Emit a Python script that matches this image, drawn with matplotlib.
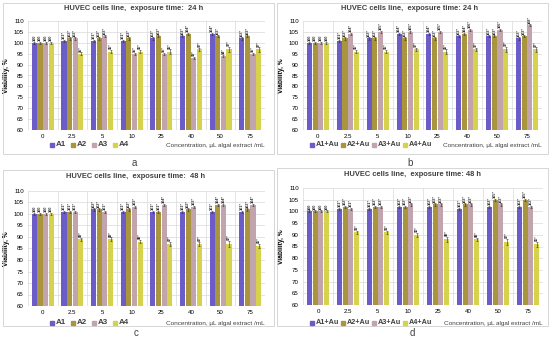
import numpy as np
import matplotlib.pyplot as plt
from matplotlib.patches import Rectangle

plt.rcParams['font.family'] = ['Liberation Sans', 'DejaVu Sans']

conc = ['0', '2.5', '5', '10', '25', '40', '50', '75']

# panel a: 24 h, extracts
a_A1 = [100, 101, 101, 101, 102, 103, 104, 102]
a_A2 = [100, 102, 102, 102, 103, 104, 103, 103]
a_A3 = [100, 102, 103, 95, 95, 93, 94, 95]
a_A4 = [100, 95, 96, 96, 96, 97, 97, 97]

# panel b: 24 h, extracts + Au
b_A1 = [100, 101, 102, 104, 104, 103, 103, 102]
b_A2 = [100, 102, 102, 102, 102, 104, 103, 103]
b_A3 = [100, 104, 105, 105, 105, 106, 106, 108]
b_A4 = [100, 96, 96, 97, 96, 97, 97, 97]

# panel c: 48 h, extracts
c_A1 = [100, 101, 102, 101, 101, 101, 101, 101]
c_A2 = [100, 101, 102, 102, 101, 102, 104, 102]
c_A3 = [100, 101, 101, 103, 104, 103, 104, 104]
c_A4 = [100, 89, 89, 88, 87, 87, 87, 86]

# panel d: 48 h, extracts + Au
d_A1 = [100, 101, 101, 102, 102, 101, 102, 102]
d_A2 = [100, 102, 102, 102, 103, 103, 105, 105]
d_A3 = [100, 101, 102, 103, 103, 103, 103, 102]
d_A4 = [100, 91, 91, 90, 88, 88, 87, 86]

err_small = [0.4, 0.5, 0.5, 0.5, 0.5, 0.5, 0.5, 0.5]
err_a4 = [0.4, 0.7, 0.8, 0.8, 1.0, 0.8, 1.2, 1.0]

names_plain = ['A1', 'A2', 'A3', 'A4']
names_au = ['A1+Au', 'A2+Au', 'A3+Au', 'A4+Au']
colors = ['#6b5cc8', '#a8953e', '#c2a4ac', '#d6d24e']

fig = plt.figure(figsize=(5.5, 3.4), dpi=100)
W, H = 550.0, 340.0


def box(x0, y0, x1, y1):
    # pixel coords from top-left -> figure fraction
    return [x0 / W, 1 - y1 / H, (x1 - x0) / W, (y1 - y0) / H]


def panel(rect, frame, series, names, title, letter, title_y, legend_y, letter_y, cx,
          leg_x, leg_step, leg_fs):
    fig.patches.append(Rectangle((frame[0], frame[1]), frame[2], frame[3],
                                 transform=fig.transFigure, fill=False,
                                 ec='#d0d0d0', lw=0.6))
    ax = fig.add_axes(rect)
    x = np.arange(len(conc))
    for i, (vals, col) in enumerate(zip(series, colors)):
        err = err_a4 if i == 3 else err_small
        pos = x + (i - 1.5) * 0.19
        ax.bar(pos, vals, width=0.17, color=col, zorder=3)
        ax.errorbar(pos, vals, yerr=err, fmt='none', ecolor='#333333',
                    elinewidth=0.4, capsize=0.8, capthick=0.4, zorder=4)
        for p, v, e, k in zip(pos, vals, err, range(len(vals))):
            lab = str(v) if k == 0 else str(v) + '*'
            ax.text(p, v + e + 0.3, lab, rotation=90, fontsize=2.8,
                    ha='center', va='bottom', fontweight='bold', color='#333333')
    ax.set_ylim(60, 110)
    ax.set_yticks(np.arange(60, 111, 5))
    ax.set_xlim(-0.5, len(conc) - 0.5)
    ax.set_xticks(x)
    ax.set_xticklabels(conc)
    ax.tick_params(labelsize=4.4, length=0, pad=3)
    ax.set_xticks(np.arange(-0.5, len(conc), 1), minor=True)
    ax.grid(True, axis='y', color='#d9d9d9', lw=0.5, zorder=0)
    ax.grid(True, axis='x', which='minor', color='#d9d9d9', lw=0.5, zorder=0)
    ax.tick_params(which='minor', length=0)
    for s in ax.spines.values():
        s.set_visible(False)
    ax.set_ylabel('Viability, %', fontsize=4.8, fontweight='bold', labelpad=3)
    fig.text(cx / W, 1 - title_y / H, title, fontsize=5.4, fontweight='bold',
             ha='center', va='center', color='#404040')
    # legend row
    lx = leg_x
    for nm, col in zip(names, colors):
        fig.patches.append(Rectangle((lx / W, 1 - (legend_y + 2) / H), 4 / W, 4 / H,
                                     transform=fig.transFigure, color=col))
        fig.text((lx + 6) / W, 1 - legend_y / H, nm, fontsize=leg_fs,
                 fontweight='bold', va='center', ha='left', color='#404040')
        lx += leg_step
    fig.text(rect[0] + rect[2], 1 - legend_y / H,
             'Concentration, µL algal extract /mL', fontsize=4.6,
             ha='right', va='center', color='#404040')
    fig.text(cx / W, 1 - letter_y / H, letter, fontsize=7, ha='center',
             va='center', color='#404040')
    return ax


panel(box(28, 21, 265, 130), box(3, 3, 274, 154), [a_A1, a_A2, a_A3, a_A4],
      names_plain, 'HUVEC cells line,  exposure time:  24 h', 'a', 9, 145, 163, 134,
      50, 21, 5.8)
panel(box(303, 21, 542, 130), box(277, 3, 548, 154), [b_A1, b_A2, b_A3, b_A4],
      names_au, 'HUVEC cells line,  exposure time: 24 h', 'b', 9, 145, 163, 410,
      310, 31, 5.2)
panel(box(28, 191, 265, 306), box(3, 170, 274, 326), [c_A1, c_A2, c_A3, c_A4],
      names_plain, 'HUVEC cells line,  exposure time:  48 h', 'c', 176, 323, 333, 136,
      50, 21, 5.8)
panel(box(303, 188, 543, 305), box(277, 168, 548, 326), [d_A1, d_A2, d_A3, d_A4],
      names_au, 'HUVEC cells line,  exposure time: 48 h', 'd', 175, 323, 333, 412,
      310, 31, 5.2)

fig.savefig('out.png', dpi=100)
